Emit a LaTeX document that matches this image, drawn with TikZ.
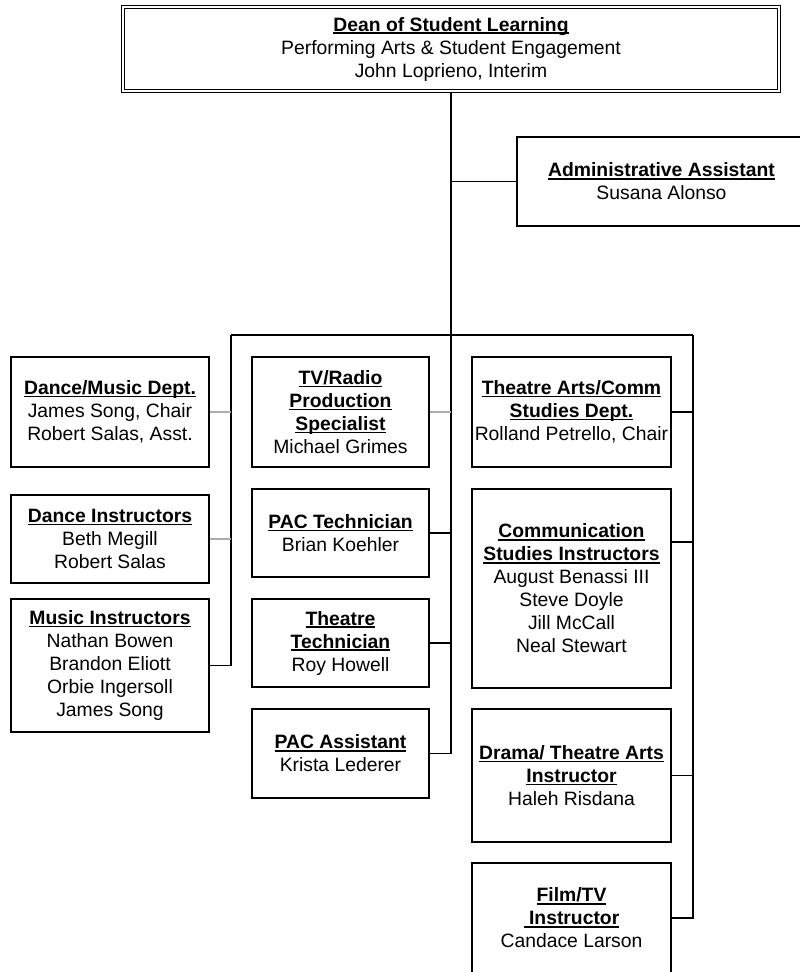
\documentclass[tikz,border=0pt]{standalone}
\usepackage{fontspec}
\setmainfont{Liberation Sans}
\newcommand\ttl[1]{\setbox0=\hbox{\bfseries #1}\leavevmode\rlap{\rule[-2pt]{\wd0}{0.9pt}}\box0}
\begin{document}
\begin{tikzpicture}[x=0.75pt,y=-0.75pt,
  orgbox/.style={draw=black, line width=1.2pt, inner sep=0pt, align=center,
    font=\fontsize{14.5pt}{17.25pt}\selectfont, text=black},
  conn/.style={draw=black, line width=1.1pt},
  gconn/.style={draw=gray!65, line width=1.3pt}]
\useasboundingbox (0,0) rectangle (800,972);
\fill[white] (0,0) rectangle (800,972);
\clip (0,0) rectangle (800,972);

% top
\node[orgbox, minimum width=492pt, minimum height=63pt, line width=1.1pt,
      double=white, double distance=1.4pt] (dean) at (451,49)
  {\ttl{Dean of Student Learning}\\Performing Arts \& Student Engagement\\John Loprieno, Interim};
\node[orgbox, minimum width=216.75pt, minimum height=66.75pt] (admin) at (661.5,181.5)
  {\ttl{Administrative Assistant}\\Susana Alonso};

% left column
\node[orgbox, minimum width=148.5pt, minimum height=82.5pt] (dmdept) at (110,412)
  {\ttl{Dance/Music Dept.}\\James Song, Chair\\Robert Salas, Asst.};
\node[orgbox, minimum width=148.5pt, minimum height=66pt] (dinst) at (110,539)
  {\ttl{Dance Instructors}\\Beth Megill\\Robert Salas};
\node[orgbox, minimum width=148.5pt, minimum height=99.75pt] (minst) at (110,665.5)
  {\ttl{Music Instructors}\\Nathan Bowen\\Brandon Eliott\\Orbie Ingersoll\\James Song};

% middle column
\node[orgbox, minimum width=132.75pt, minimum height=82.5pt] (tv) at (340.5,412)
  {\ttl{TV/Radio}\\\ttl{Production}\\\ttl{Specialist}\\Michael Grimes};
\node[orgbox, minimum width=132.75pt, minimum height=66pt] (pactech) at (340.5,533)
  {\ttl{PAC Technician}\\Brian Koehler};
\node[orgbox, minimum width=132.75pt, minimum height=66pt] (thtech) at (340.5,643)
  {\ttl{Theatre}\\\ttl{Technician}\\Roy Howell};
\node[orgbox, minimum width=132.75pt, minimum height=66.75pt] (pacasst) at (340.5,753.5)
  {\ttl{PAC Assistant}\\Krista Lederer};

% right column
\node[orgbox, minimum width=149.25pt, minimum height=82.5pt] (ta) at (571.5,412)
  {\ttl{Theatre Arts/Comm}\\\ttl{Studies Dept.}\\Rolland Petrello, Chair};
\node[orgbox, minimum width=149.25pt, minimum height=149.25pt] (comm) at (571.5,588.5)
  {\ttl{Communication}\\\ttl{Studies Instructors}\\August Benassi III\\Steve Doyle\\Jill McCall\\Neal Stewart};
\node[orgbox, minimum width=149.25pt, minimum height=99.75pt] (drama) at (571.5,775.5)
  {\ttl{Drama/ Theatre Arts}\\\ttl{Instructor}\\Haleh Risdana};
\node[orgbox, minimum width=149.25pt, minimum height=82.5pt] (film) at (571.5,918)
  {\ttl{Film/TV}\\\ttl{\ Instructor}\\Candace Larson};

% junction points
\coordinate (lbar) at (231,335);
\coordinate (rbar) at (693,335);
\coordinate (commc) at (671,542);

% connectors
\draw[conn] (dean.south) |- (pacasst.east);
\draw[conn] (admin.west) -- (admin.west -| dean.south);
\draw[conn] (lbar) -- (rbar);
\draw[conn] (lbar) |- (minst.east);
\draw[conn] (rbar) |- (film.east);
\draw[gconn] (dmdept.east) -- (dmdept.east -| lbar);
\draw[gconn] (dinst.east) -- (dinst.east -| lbar);
\draw[gconn] (tv.east) -- (tv.east -| dean.south);
\draw[conn] (pactech.east) -- (pactech.east -| dean.south);
\draw[conn] (thtech.east) -- (thtech.east -| dean.south);
\draw[conn] (ta.east) -- (ta.east -| rbar);
\draw[conn] (commc) -- (commc -| rbar);
\draw[conn] (drama.east) -- (drama.east -| rbar);
\end{tikzpicture}
\end{document}
